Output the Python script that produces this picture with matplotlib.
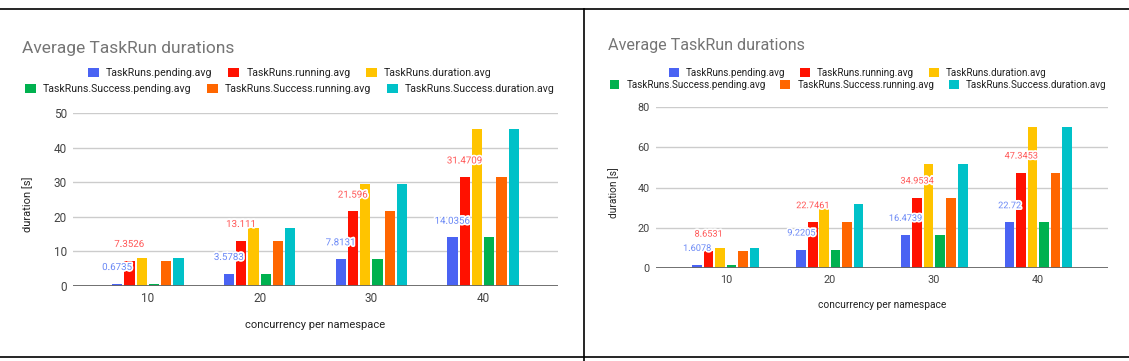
"""
Average TaskRun durations - two Google Sheets style column charts side by side
"""

import matplotlib
matplotlib.use('Agg')
import matplotlib.pyplot as plt
import matplotlib.patheffects as pe
from matplotlib.patches import Patch
from matplotlib.lines import Line2D
import numpy as np

plt.rcParams['font.family'] = ['Roboto', 'DejaVu Sans']

# データ
categories = ['10', '20', '30', '40']
series_names = ['TaskRuns.pending.avg', 'TaskRuns.running.avg', 'TaskRuns.duration.avg',
                'TaskRuns.Success.pending.avg', 'TaskRuns.Success.running.avg',
                'TaskRuns.Success.duration.avg']
colors = ['#4a63f3', '#ff1100', '#ffc400', '#00b14f', '#ff6600', '#00c1c8']
label_colors = ['#6a88f6', '#ff5656']

# 左のチャート
left_pending = [0.6735, 3.5783, 7.8131, 14.0356]
left_running = [7.3526, 13.111, 21.596, 31.4709]
left_duration = [8.03, 16.69, 29.41, 45.51]
left_success_pending = [0.6735, 3.5783, 7.8131, 14.0356]
left_success_running = [7.3526, 13.111, 21.596, 31.4709]
left_success_duration = [8.03, 16.69, 29.41, 45.51]

# 右のチャート
right_pending = [1.6078, 9.2205, 16.4739, 22.72]
right_running = [8.6531, 22.7461, 34.9534, 47.3453]
right_duration = [10.26, 31.97, 51.43, 70.07]
right_success_pending = [1.6078, 9.2205, 16.4739, 22.72]
right_success_running = [8.6531, 22.7461, 34.9534, 47.3453]
right_success_duration = [10.26, 31.97, 51.43, 70.07]

W, H = 1129, 361


def px_rect(x0, x1, ytop, ybot):
    return [x0 / W, 1 - ybot / H, (x1 - x0) / W, (ybot - ytop) / H]


def draw_panel(ax, series, yticks, fs, lfs):
    x = np.arange(len(categories))
    pitch, width = 0.11, 0.092
    for i, vals in enumerate(series):
        off = (i - 2.5) * pitch
        ax.bar(x + off, vals, width, color=colors[i], zorder=3)
        # 値ラベル (pending / running のみ)
        if i < 2:
            for xi, v in zip(x, vals):
                ax.annotate(f'{v:g}', (xi + off, v), xytext=(0, 12), textcoords='offset points',
                            ha='center', va='center', fontsize=lfs, color=label_colors[i], zorder=5,
                            path_effects=[pe.withStroke(linewidth=2.5, foreground='white')])
    ax.set_xlim(-0.67, 3.67)
    ax.set_ylim(0, yticks[-1])
    ax.set_yticks(yticks)
    ax.set_xticks(x)
    ax.set_xticklabels(categories)
    ax.grid(axis='y', color='#cccccc', lw=1, zorder=0)
    ax.axhline(0, color='#666666', lw=1.3, zorder=4)
    for s in ax.spines.values():
        s.set_visible(False)
    ax.tick_params(length=0, labelsize=fs, colors='#444444', pad=4.5)
    ax.text(-0.093, 0.47, 'duration [s]', transform=ax.transAxes, rotation=90,
            ha='center', va='center', fontsize=fs - 0.5, color='#222222')
    ax.text(0.5, -0.225, 'concurrency per namespace', transform=ax.transAxes,
            ha='center', va='center', fontsize=fs - 0.5, color='#222222')


fig = plt.figure(figsize=(W / 100, H / 100), dpi=100)

ax1 = fig.add_axes(px_rect(73, 558, 113, 286))
draw_panel(ax1, [left_pending, left_running, left_duration,
                 left_success_pending, left_success_running, left_success_duration],
           [0, 10, 20, 30, 40, 50], 8.5, 7)

ax2 = fig.add_axes(px_rect(656, 1108, 106.7, 268.3))
draw_panel(ax2, [right_pending, right_running, right_duration,
                 right_success_pending, right_success_running, right_success_duration],
           [0, 20, 40, 60, 80], 7.8, 6.6)

# タイトル
fig.text(22 / W, 1 - 53 / H, 'Average TaskRun durations', fontsize=12.5, color='#757575', va='baseline')
fig.text(608 / W, 1 - 50 / H, 'Average TaskRun durations', fontsize=11.6, color='#757575', va='baseline')

# 凡例 (2行, 各行を中央寄せ)
handles = [Patch(facecolor=c, edgecolor='none') for c in colors]
for cx, ys, lfs in [(290, (73, 89), 7.6), (858, (73, 85), 7.1)]:
    for r, yc in enumerate(ys):
        leg = fig.legend(handles[r * 3:r * 3 + 3], series_names[r * 3:r * 3 + 3], ncol=3,
                         loc='center', bbox_to_anchor=(cx / W, 1 - yc / H), frameon=False,
                         fontsize=lfs, handlelength=1.0, handleheight=1.0, handletextpad=0.7,
                         columnspacing=1.5, borderpad=0, borderaxespad=0)
        for t in leg.get_texts():
            t.set_color('#222222')

# 枠線
fig.add_artist(Line2D([0, 1], [1 - 9 / H, 1 - 9 / H], color='black', lw=1.2))
fig.add_artist(Line2D([0, 1], [1 - 357 / H, 1 - 357 / H], color='black', lw=1.2))
fig.add_artist(Line2D([584 / W, 584 / W], [0, 1 - 9 / H], color='black', lw=1.2))

fig.savefig('out.png', dpi=100)
